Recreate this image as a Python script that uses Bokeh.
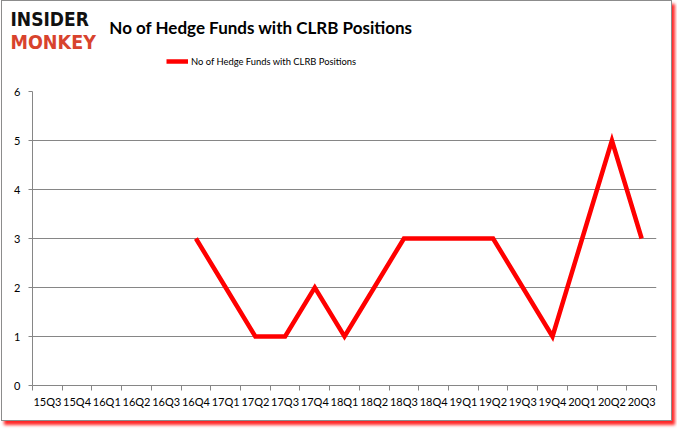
from bokeh.plotting import figure
from bokeh.layouts import column, row
from bokeh.models import Range1d, FixedTicker, Legend, LegendItem
from bokeh.core.properties import value
from bokeh.embed import file_html
from bokeh.resources import INLINE

quarters = ["15Q3", "15Q4", "16Q1", "16Q2", "16Q3", "16Q4", "17Q1", "17Q2", "17Q3", "17Q4",
            "18Q1", "18Q2", "18Q3", "18Q4", "19Q1", "19Q2", "19Q3", "19Q4", "20Q1", "20Q2", "20Q3"]
funds = [None, None, None, None, None, 3, 2, 1, 1, 2,
         1, 2, 3, 3, 3, 3, 2, 1, 3, 5, 3]
y_ticks = [0, 1, 2, 3, 4, 5, 6]
title_text = "No of Hedge Funds with CLRB Positions"
series_name = "No of Hedge Funds with CLRB Positions"

RED = "#ff0000"
GRID = "#868686"
BORDER = "#8c8c8c"
FONT = "Lato"

X0, Y0 = 2, 1          # content origin inside the 1px box border
X1, Y1 = 671, 420      # content end
HEAD_END = 85
W = X1 - X0
HEAD_H = HEAD_END - Y0
CHART_H = Y1 - HEAD_END

# ---------- header: logo, title, legend ----------
head = figure(width=W, height=HEAD_H, output_backend="svg", toolbar_location=None,
              x_range=Range1d(X0, X1), y_range=Range1d(HEAD_END, Y0),
              x_axis_type=None, y_axis_type=None, min_border=0,
              min_border_left=0, min_border_right=0, min_border_top=0, min_border_bottom=0)
head.outline_line_color = None
head.xgrid.visible = False
head.ygrid.visible = False
head.background_fill_color = "white"
head.border_fill_color = "white"

head.text(x=[10], y=[18], text=["INSIDER"], text_font=value("DejaVu Sans Condensed"),
          text_font_style="bold", text_font_size="19px", text_color="#111111",
          text_align="left", text_baseline="middle")
head.text(x=[10], y=[42], text=["MONKEY"], text_font=value("DejaVu Sans Condensed"),
          text_font_style="bold", text_font_size="19.5px", text_color="#d8432d",
          text_align="left", text_baseline="middle")
head.text(x=[260.5], y=[27], text=[title_text], text_font=value(FONT),
          text_font_style="bold", text_font_size="17px", text_color="black",
          text_align="center", text_baseline="middle")
dummy = head.line([-20, -10], [-20, -20], line_color=RED, line_width=4.5)
leg = Legend(items=[LegendItem(label=series_name, renderers=[dummy])],
             location=(166 - X0, HEAD_END - 68), orientation="horizontal",
             padding=0, margin=0, spacing=0, border_line_color=None,
             background_fill_alpha=0, glyph_width=22, glyph_height=14,
             label_height=14, label_standoff=3,
             label_text_font=FONT, label_text_font_size="9.4px",
             label_text_color="black")
head.add_layout(leg, "center")

# ---------- chart ----------
p = figure(width=W, height=CHART_H, output_backend="svg", toolbar_location=None,
           x_range=Range1d(0, len(quarters)), y_range=Range1d(0, 6),
           min_border_left=32 - X0, min_border_right=X1 - 656,
           min_border_top=91 - HEAD_END, min_border_bottom=Y1 - 385)
p.outline_line_color = None
p.background_fill_color = "white"
p.border_fill_color = "white"

xs = [i + 0.5 for i, v in enumerate(funds) if v is not None]
ys = [v for v in funds if v is not None]
p.line(xs, ys, line_color=RED, line_width=4.5, line_join="miter")

centres = [i + 0.5 for i in range(len(quarters))]
p.xaxis.ticker = FixedTicker(ticks=centres, minor_ticks=list(range(len(quarters) + 1)))
p.xaxis.major_label_overrides = {c: q for c, q in zip(centres, quarters)}
p.xaxis.major_tick_out = 0
p.xaxis.major_tick_in = 0
p.xaxis.minor_tick_out = 5
p.xaxis.minor_tick_in = 0
p.xaxis.minor_tick_line_color = GRID
p.xaxis.axis_line_color = GRID
p.xaxis.major_label_text_font = FONT
p.xaxis.major_label_text_font_size = "11px"
p.xaxis.major_label_text_color = "black"
p.xaxis.major_label_standoff = 4

p.yaxis.ticker = FixedTicker(ticks=y_ticks, minor_ticks=[])
p.yaxis.major_tick_out = 4
p.yaxis.major_tick_in = 0
p.yaxis.major_tick_line_color = GRID
p.yaxis.axis_line_color = GRID
p.yaxis.major_label_text_font = FONT
p.yaxis.major_label_text_font_size = "11px"
p.yaxis.major_label_text_color = "black"
p.yaxis.major_label_standoff = 8

p.xgrid.grid_line_color = None
p.ygrid.ticker = FixedTicker(ticks=y_ticks)
p.ygrid.grid_line_color = GRID
p.ygrid.grid_line_width = 1

layout = column(row(head, spacing=0), row(p, spacing=0), spacing=0)
layout.styles = {
    "margin-left": "1px",
    "border": "1px solid " + BORDER,
    "box-shadow": "3px 4px 3px rgba(255, 0, 0, 0.85)",
}

open("out.html", "w").write(file_html(layout, INLINE))
